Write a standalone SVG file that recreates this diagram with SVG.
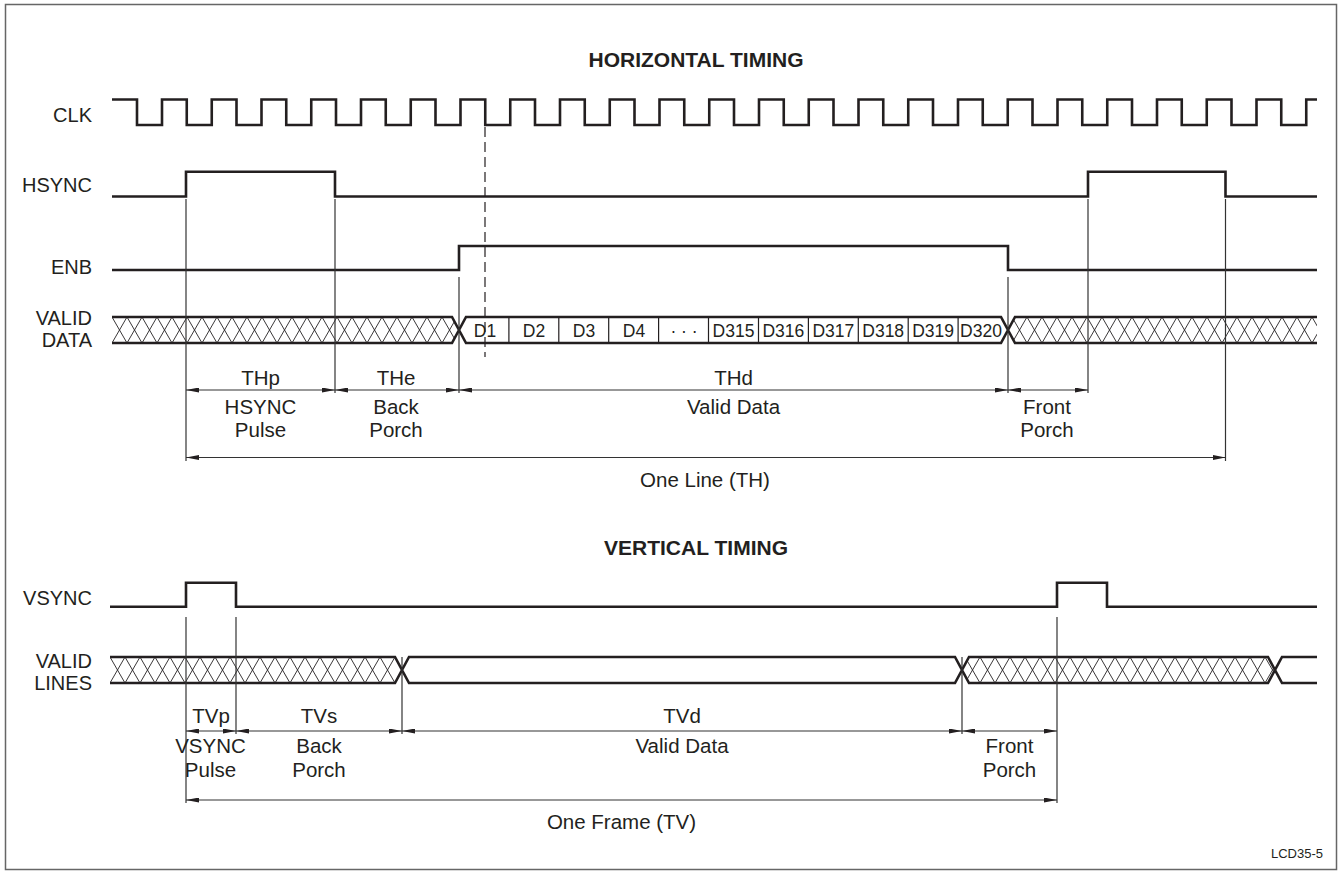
<svg xmlns="http://www.w3.org/2000/svg" width="1341" height="872" viewBox="0 0 1341 872">
<style>
  .sig{fill:none;stroke:#231f20;stroke-width:2.6;stroke-linejoin:miter;stroke-linecap:butt}
  .guide{fill:none;stroke:#333;stroke-width:1.2}
  .dim{fill:none;stroke:#333;stroke-width:1.2;marker-start:url(#ah);marker-end:url(#ah)}
  .div{fill:none;stroke:#231f20;stroke-width:1.2}
  text{font-family:"Liberation Sans",Arial,Helvetica,sans-serif;fill:#231f20}
  .lbl{font-size:20px;text-anchor:end}
  .dl{font-size:20.5px;text-anchor:middle}
  .dc{font-size:17.5px;text-anchor:middle}
  .title{font-size:21px;font-weight:bold;text-anchor:middle}
</style>
<defs>
  <marker id="ah" viewBox="0 0 13 5" refX="13" refY="2.5" markerWidth="13" markerHeight="5" markerUnits="userSpaceOnUse" orient="auto-start-reverse">
    <path d="M0,0 L13,2.5 L0,5 z" fill="#231f20"/>
  </marker>
  <pattern id="hatchH" patternUnits="userSpaceOnUse" x="112" y="317" width="15" height="26">
    <path d="M0,0 L15,26 M0,26 L15,0" stroke="#231f20" stroke-width="0.9" fill="none"/>
  </pattern>
  <pattern id="hatchV" patternUnits="userSpaceOnUse" x="110" y="657" width="15" height="26">
    <path d="M0,0 L15,26 M0,26 L15,0" stroke="#231f20" stroke-width="0.9" fill="none"/>
  </pattern>
</defs>
<rect x="0" y="0" width="1341" height="872" fill="#fff"/>
<rect id="frame" x="5.5" y="4.5" width="1331" height="865" fill="none" stroke="#666" stroke-width="1.5"/>

<text class="title" x="696" y="67">HORIZONTAL TIMING</text>
<text class="title" x="696" y="555">VERTICAL TIMING</text>

<g id="clk">
  <text class="lbl" x="92" y="122">CLK</text>
  <path class="sig" d="M112,99.5 H137 V125 H162 V99.5 H186.75 V125 H211.75 V99.5 H236.5 V125 H261.5 V99.5 H286.25 V125 H311.25 V99.5 H336 V125 H361 V99.5 H385.75 V125 H410.75 V99.5 H435.5 V125 H460.5 V99.5 H485.25 V125 H510.25 V99.5 H535 V125 H560 V99.5 H584.75 V125 H609.75 V99.5 H634.5 V125 H659.5 V99.5 H684.25 V125 H709.25 V99.5 H734 V125 H759 V99.5 H783.75 V125 H808.75 V99.5 H833.5 V125 H858.5 V99.5 H883.25 V125 H908.25 V99.5 H933 V125 H958 V99.5 H982.75 V125 H1007.75 V99.5 H1032.5 V125 H1057.5 V99.5 H1082.25 V125 H1107.25 V99.5 H1132 V125 H1157 V99.5 H1181.75 V125 H1206.75 V99.5 H1231.5 V125 H1256.5 V99.5 H1281.25 V125 H1306.25 V99.5 H1317"/>
</g>

<g id="hsync">
  <text class="lbl" x="92" y="192">HSYNC</text>
  <path class="sig" d="M112,196.5 H186 V171.7 H335 V196.5 H1088 V171.7 H1225.5 V196.5 H1317"/>
</g>

<g id="enb">
  <text class="lbl" x="92" y="274">ENB</text>
  <path class="sig" d="M112,270 H459 V246 H1008 V270 H1317"/>
</g>

<g id="valid-data">
  <text class="lbl" x="92" y="325">VALID</text>
  <text class="lbl" x="92" y="347">DATA</text>
  <path d="M112,317 H452 L459,330 L452,343 H112 Z" fill="url(#hatchH)"/>
  <path d="M1015,317 H1317 V343 H1015 L1008,330 Z" fill="url(#hatchH)"/>
  <path class="div" d="M508.9,317 V343 M558.8,317 V343 M608.7,317 V343 M658.6,317 V343 M708.5,317 V343 M758.5,317 V343 M808.4,317 V343 M858.3,317 V343 M908.2,317 V343 M958.1,317 V343"/>
  <path class="sig" d="M112,317 H452 L466,343 H1001 L1015,317 H1317 M112,343 H452 L466,317 H1001 L1015,343 H1317"/>
  <text class="dc" x="485" y="337">D1</text>
  <text class="dc" x="534" y="337">D2</text>
  <text class="dc" x="584" y="337">D3</text>
  <text class="dc" x="634" y="337">D4</text>
  <text class="dc" x="684" y="337">· · ·</text>
  <text class="dc" x="733.5" y="337">D315</text>
  <text class="dc" x="783.4" y="337">D316</text>
  <text class="dc" x="833.3" y="337">D317</text>
  <text class="dc" x="883.2" y="337">D318</text>
  <text class="dc" x="933.1" y="337">D319</text>
  <text class="dc" x="981" y="337">D320</text>
</g>

<g id="vsync">
  <text class="lbl" x="92" y="605">VSYNC</text>
  <path class="sig" d="M110,606.7 H186 V582.7 H236 V606.7 H1057 V582.7 H1107 V606.7 H1317"/>
</g>

<g id="valid-lines">
  <text class="lbl" x="92" y="668">VALID</text>
  <text class="lbl" x="92" y="690">LINES</text>
  <path d="M110,657 H395 L402,670 L395,683 H110 Z" fill="url(#hatchV)"/>
  <path d="M969,657 H1268 L1275,670 L1268,683 H969 L962,670 Z" fill="url(#hatchV)"/>
  <path class="sig" d="M110,657 H395 L409,683 H955 L969,657 H1268 L1282,683 H1317 M110,683 H395 L409,657 H955 L969,683 H1268 L1282,657 H1317"/>
</g>

<g id="connectors">
  <line x1="485" y1="127" x2="485" y2="357" stroke="#231f20" stroke-width="1.2" stroke-dasharray="10 5"/>
  <line class="guide" x1="186" y1="199" x2="186" y2="461"/>
  <line class="guide" x1="335" y1="199" x2="335" y2="393"/>
  <line class="guide" x1="459" y1="277" x2="459" y2="393"/>
  <line class="guide" x1="1008" y1="277" x2="1008" y2="393"/>
  <line class="guide" x1="1088" y1="199" x2="1088" y2="393"/>
  <line class="guide" x1="1225.5" y1="199" x2="1225.5" y2="461"/>
  <line class="dim" x1="186" y1="390" x2="335" y2="390"/>
  <line class="dim" x1="335" y1="390" x2="459" y2="390"/>
  <line class="dim" x1="459" y1="390" x2="1008" y2="390"/>
  <line class="dim" x1="1008" y1="390" x2="1088" y2="390"/>
  <line class="dim" x1="186" y1="457.5" x2="1225.5" y2="457.5"/>
  <line class="guide" x1="186" y1="617" x2="186" y2="803"/>
  <line class="guide" x1="236" y1="617" x2="236" y2="734"/>
  <line class="guide" x1="402" y1="657" x2="402" y2="734"/>
  <line class="guide" x1="962" y1="657" x2="962" y2="734"/>
  <line class="guide" x1="1057" y1="617" x2="1057" y2="803"/>
  <line class="dim" x1="186" y1="731" x2="236" y2="731"/>
  <line class="dim" x1="236" y1="731" x2="402" y2="731"/>
  <line class="dim" x1="402" y1="731" x2="962" y2="731"/>
  <line class="dim" x1="962" y1="731" x2="1057" y2="731"/>
  <line class="dim" x1="186" y1="800" x2="1057" y2="800"/>
</g>

<g id="dim-labels">
  <text class="dl" x="260.5" y="385">THp</text>
  <text class="dl" x="260.5" y="414">HSYNC</text>
  <text class="dl" x="260.5" y="437">Pulse</text>
  <text class="dl" x="396" y="385">THe</text>
  <text class="dl" x="396" y="414">Back</text>
  <text class="dl" x="396" y="437">Porch</text>
  <text class="dl" x="733.5" y="385">THd</text>
  <text class="dl" x="733.5" y="414">Valid Data</text>
  <text class="dl" x="1047" y="414">Front</text>
  <text class="dl" x="1047" y="437">Porch</text>
  <text class="dl" x="705" y="487">One Line (TH)</text>

  <text class="dl" x="211" y="723">TVp</text>
  <text class="dl" x="210.5" y="753">VSYNC</text>
  <text class="dl" x="210.5" y="777">Pulse</text>
  <text class="dl" x="319" y="723">TVs</text>
  <text class="dl" x="319" y="753">Back</text>
  <text class="dl" x="319" y="777">Porch</text>
  <text class="dl" x="682" y="723">TVd</text>
  <text class="dl" x="682" y="753">Valid Data</text>
  <text class="dl" x="1009.5" y="753">Front</text>
  <text class="dl" x="1009.5" y="777">Porch</text>
  <text class="dl" x="621.5" y="829">One Frame (TV)</text>
</g>

<text x="1323" y="858" font-size="13" text-anchor="end">LCD35-5</text>
</svg>
